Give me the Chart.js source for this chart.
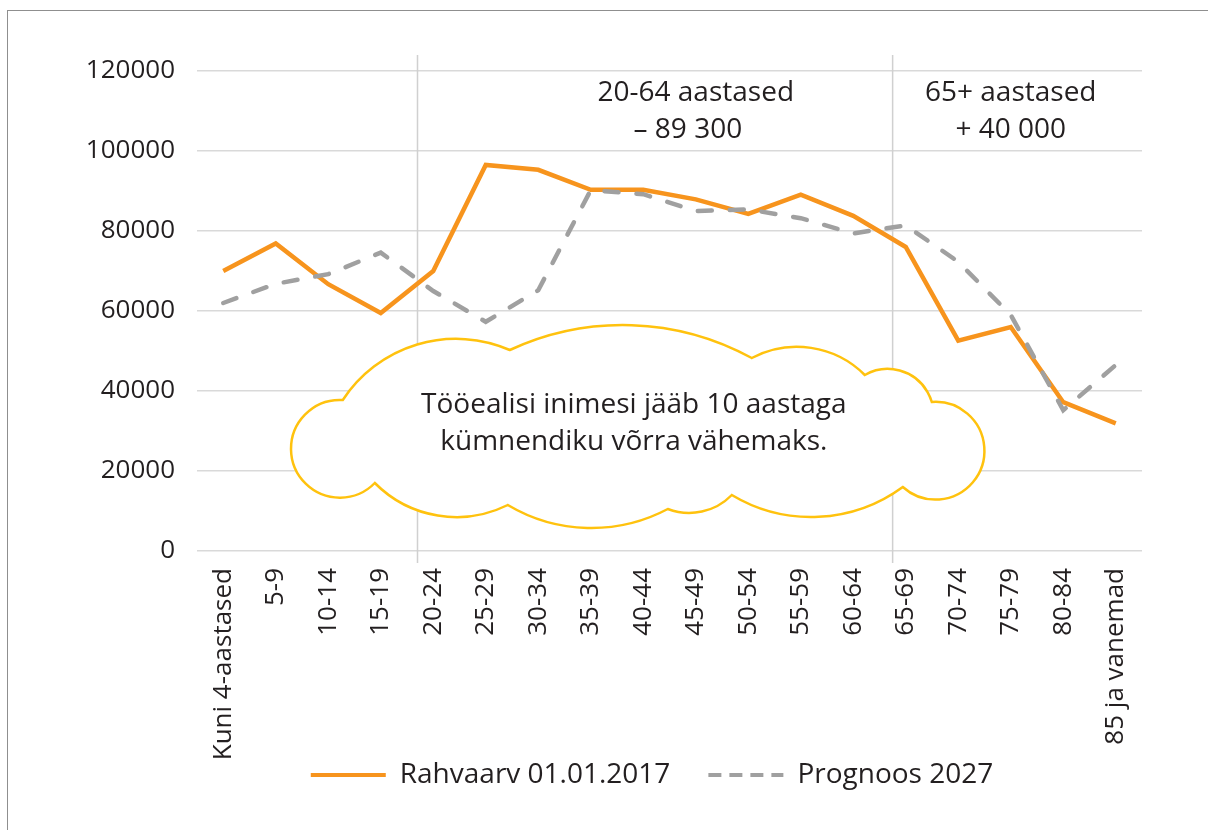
<!DOCTYPE html>
<html>
<head>
<meta charset="utf-8">
<script src="https://cdn.jsdelivr.net/npm/chart.js@4"></script>
<style>
  html, body { margin: 0; padding: 0; background: #fff; overflow: hidden; }
  #wrap { position: relative; width: 1208px; height: 830px; }
  #frame { position: absolute; left: 7px; top: 10px; width: 1300px; height: 900px;
           border: 1.5px solid #8f8f8f; pointer-events: none; }
</style>
</head>
<body>
<div id="wrap">
  <canvas id="chart" width="1208" height="830"></canvas>
  <div id="frame"></div>
</div>
<script>
const categories = ["Kuni 4-aastased", "5-9", "10-14", "15-19", "20-24", "25-29", "30-34", "35-39", "40-44",
  "45-49", "50-54", "55-59", "60-64", "65-69", "70-74", "75-79", "80-84", "85 ja vanemad"];
const rahvaarv2017 = [70000, 76900, 66700, 59500, 70000, 96500, 95300, 90300, 90300,
  87900, 84300, 89100, 83800, 76000, 52600, 56000, 37200, 31900];
const prognoos2027 = [62000, 66800, 69200, 74600, 65000, 57300, 65200, 90200, 89200,
  85000, 85400, 83200, 79400, 81400, 72300, 59000, 35200, 46500];
const yTicks = [0, 20000, 40000, 60000, 80000, 100000, 120000];
const seriesNames = ["Rahvaarv 01.01.2017", "Prognoos 2027"];
const groupLines = ["20-64 aastased", "\u2013 89 300", "65+ aastased", "+ 40 000"];
const cloudLines = ["Tööealisi inimesi jääb 10 aastaga", "kümnendiku võrra vähemaks."];

const FONT = "'Open Sans', 'Noto Sans', sans-serif";
const TEXT = "#231f20";
const ORANGE = "#f7941d";
const GREY = "#a0a0a0";

// cloud outline: notch, bulge, notch, bulge ... (offsets from cloud centre)
const cloudPts = [
  [-291, -23], [-211, -80], [-124, -73], [-9, -98], [118, -65], [169, -76], [231, -48],
  [286, -41], [298, -21], [350, 20], [269, 64], [176, 94], [98, 72], [66, 89], [34, 86],
  [-44, 105], [-126, 82], [-181, 94], [-259, 60], [-342, 17]
];

function arcThrough(ctx, p0, p1, p2) {
  const [ax, ay] = p0, [bx, by] = p1, [cx, cy] = p2;
  const d = 2 * (ax * (by - cy) + bx * (cy - ay) + cx * (ay - by));
  const a2 = ax * ax + ay * ay, b2 = bx * bx + by * by, c2 = cx * cx + cy * cy;
  const ux = (a2 * (by - cy) + b2 * (cy - ay) + c2 * (ay - by)) / d;
  const uy = (a2 * (cx - bx) + b2 * (ax - cx) + c2 * (bx - ax)) / d;
  const r = Math.hypot(ax - ux, ay - uy);
  const t0 = Math.atan2(ay - uy, ax - ux);
  const t1 = Math.atan2(by - uy, bx - ux);
  const t2 = Math.atan2(cy - uy, cx - ux);
  const norm = a => ((a % (2 * Math.PI)) + 2 * Math.PI) % (2 * Math.PI);
  const anti = !(norm(t1 - t0) < norm(t2 - t0));
  ctx.arc(ux, uy, r, t0, t2, anti);
}

const decorations = {
  id: "decorations",
  afterLayout(chart) {
    // put the legend row where the original has it (the box is also its clip area)
    const lg = chart.legend;
    const dx = 652 - (lg.left + lg.right) / 2;
    lg.left += dx; lg.right += dx;
    lg.top = chart.chartArea.bottom + 172;
    lg.height = 80;
    lg.bottom = lg.top + lg.height;
  },
  beforeDatasetsDraw(chart) {
    const { ctx, chartArea, scales: { x } } = chart;
    ctx.save();
    ctx.strokeStyle = "#d0d0d0";
    ctx.lineWidth = 1.5;
    [3.7, 12.75].forEach(idx => {
      const px = x.getPixelForValue(idx);
      ctx.beginPath();
      ctx.moveTo(px, chartArea.top - 16);
      ctx.lineTo(px, chartArea.bottom + 12);
      ctx.stroke();
    });
    ctx.restore();
  },
  afterDatasetsDraw(chart) {
    const { ctx, scales: { x, y } } = chart;
    ctx.save();
    // group labels at the top
    ctx.fillStyle = TEXT;
    ctx.font = "28px " + FONT;
    ctx.textAlign = "center";
    ctx.textBaseline = "middle";
    ctx.fillText(groupLines[0], x.getPixelForValue(9), y.getPixelForValue(114500));
    ctx.fillText(groupLines[1], x.getPixelForValue(8.85), y.getPixelForValue(105250));
    ctx.fillText(groupLines[2], x.getPixelForValue(15), y.getPixelForValue(114500));
    ctx.fillText(groupLines[3], x.getPixelForValue(15), y.getPixelForValue(105250));

    // cloud callout
    const cx = x.getPixelForValue(7.82);
    const cy = y.getPixelForValue(32000);
    const pts = cloudPts.map(p => [cx + p[0], cy + p[1]]);
    ctx.beginPath();
    ctx.moveTo(pts[0][0], pts[0][1]);
    for (let i = 0; i < pts.length; i += 2) {
      arcThrough(ctx, pts[i], pts[i + 1], pts[(i + 2) % pts.length]);
    }
    ctx.closePath();
    ctx.fillStyle = "#ffffff";
    ctx.fill();
    ctx.strokeStyle = "#ffc20e";
    ctx.lineWidth = 2.5;
    ctx.stroke();

    ctx.fillStyle = TEXT;
    ctx.font = "28px " + FONT;
    ctx.fillText(cloudLines[0], cx, cy - 18);
    ctx.fillText(cloudLines[1], cx, cy + 19);
    ctx.restore();
  }
};

new Chart(document.getElementById("chart"), {
  type: "line",
  data: {
    labels: categories,
    datasets: [
      {
        label: seriesNames[0],
        data: rahvaarv2017,
        borderColor: ORANGE,
        backgroundColor: ORANGE,
        borderWidth: 4.5,
        pointRadius: 0,
        tension: 0,
        order: 1
      },
      {
        label: seriesNames[1],
        data: prognoos2027,
        borderColor: GREY,
        backgroundColor: GREY,
        borderWidth: 4.5,
        borderDash: [14, 18],
        borderCapStyle: "round",
        pointRadius: 0,
        tension: 0,
        order: 0
      }
    ]
  },
  options: {
    responsive: false,
    animation: false,
    layout: { padding: { left: 80, right: 66, top: 71, bottom: 9 } },
    plugins: {
      tooltip: { enabled: false },
      legend: {
        position: "bottom",
        maxHeight: 50,
        labels: {
          color: TEXT,
          font: { family: FONT, size: 28 },
          usePointStyle: true,
          pointStyle: "line",
          pointStyleWidth: 75,
          padding: 38,
          sort: (a, b) => a.datasetIndex - b.datasetIndex,
          generateLabels(chart) {
            const items = Chart.defaults.plugins.legend.labels.generateLabels(chart);
            items.forEach(it => {
              it.lineWidth = 4;
              it.lineCap = "butt";
              it.lineDash = it.datasetIndex === 1 ? [13, 8] : [];
              it.pointStyle = "line";
            });
            return items;
          }
        }
      }
    },
    scales: {
      x: {
        offset: true,
        grid: { display: false, drawTicks: false },
        border: { display: false },
        ticks: {
          color: TEXT,
          font: { family: FONT, size: 26 },
          minRotation: 90,
          maxRotation: 90,
          autoSkip: false,
          padding: 17
        },
        afterFit(scale) { scale.height = 220; }
      },
      y: {
        min: 0,
        max: 120000,
        afterBuildTicks(scale) { scale.ticks = yTicks.map(v => ({ value: v })); },
        grid: { color: "#d9d9d9", lineWidth: 1.5, drawTicks: false },
        border: { display: false },
        ticks: {
          color: TEXT,
          font: { family: FONT, size: 26 },
          padding: 22,
          callback: v => String(v)
        },
        afterFit(scale) { scale.width = 117; }
      }
    }
  },
  plugins: [decorations]
});
</script>
</body>
</html>
